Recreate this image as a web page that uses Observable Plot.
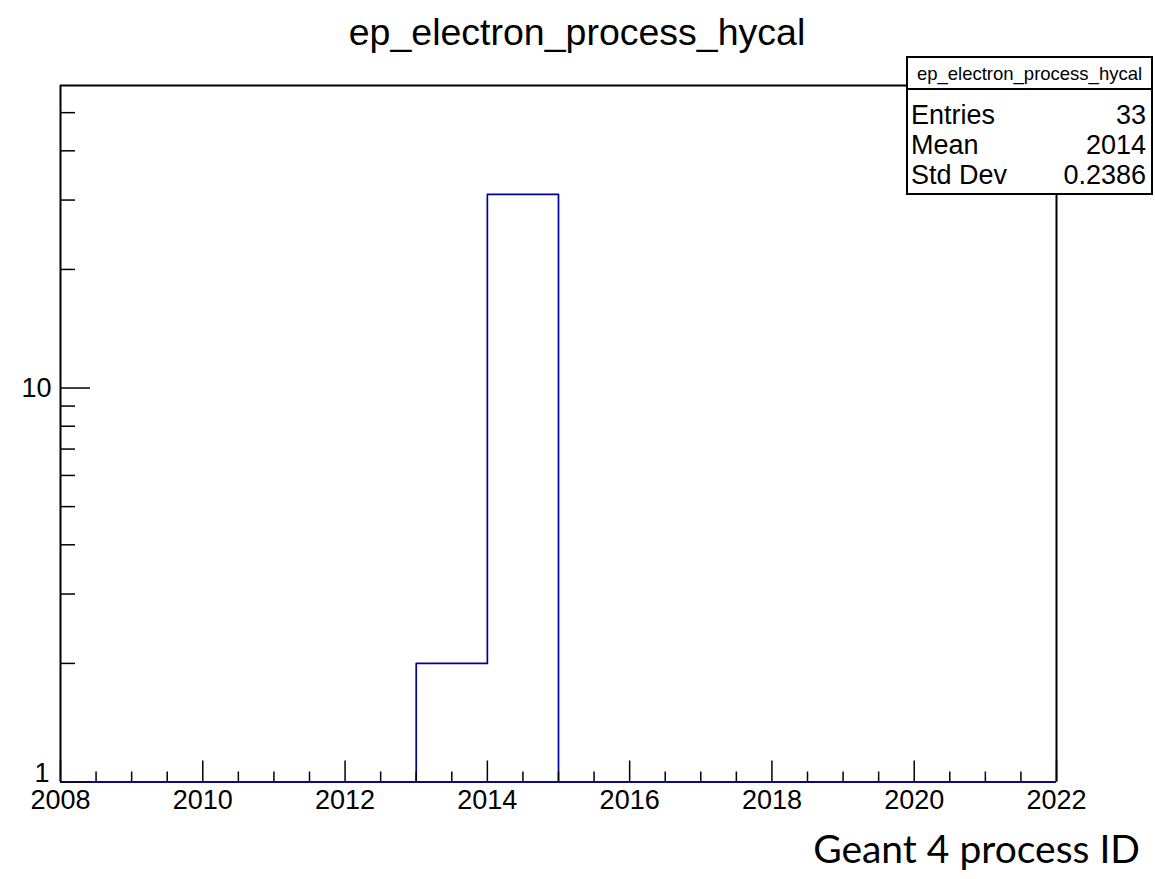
<!DOCTYPE html>
<html><head><meta charset="utf-8">
<script src="https://cdn.jsdelivr.net/npm/d3@7"></script>
<script src="https://cdn.jsdelivr.net/npm/@observablehq/plot@0.6"></script>
<style>
html,body{margin:0;padding:0;background:#fff;}
#wrap{position:relative;width:1155px;height:879px;overflow:hidden;}
#wrap svg{position:absolute;left:0;top:0;}
</style></head><body><div id="wrap"></div>
<script>
// ---- data ----
const title = "ep_electron_process_hycal";
const xAxisTitle = "Geant 4 process ID";
const binLow  = [2008,2009,2010,2011,2012,2013,2014,2015,2016,2017,2018,2019,2020,2021];
const binHigh = [2009,2010,2011,2012,2013,2014,2015,2016,2017,2018,2019,2020,2021,2022];
const counts  = [0,0,0,0,0,2,31,0,0,0,0,0,0,0];
const xTickLabels = [2008,2010,2012,2014,2016,2018,2020,2022];
const yTickLabels = [1,10];
const yMinorTicks = [2,3,4,5,6,7,8,9,20,30,40,50];
const statNames  = ["Entries","Mean","Std Dev"];
const statValues = ["33","2014","0.2386"];

// ---- layout ----
const W = 1155, H = 879;
const mL = 60, mR = 99, mT = 85, mB = 97.5;
const fw = W - mL - mR, fh = H - mT - mB;
const font = "'Liberation Sans', Arial, Helvetica, sans-serif";
const histColor = "#00009c";
const yFloor = 1; // bottom of the log axis

// step outline of the histogram (zero bins lie on the axis floor)
const bins = binLow.map((lo, i) => ({lo, hi: binHigh[i], n: counts[i]}));
const nz = bins.filter(d => d.n > 0);
const outline = [{x: nz[0].lo, y: yFloor}];
nz.forEach(d => { outline.push({x: d.lo, y: d.n}); outline.push({x: d.hi, y: d.n}); });
outline.push({x: nz[nz.length - 1].hi, y: yFloor});

const xMinor = d3.range(2008.5, 2022, 0.5).filter(v => v % 2 !== 0);

const chart = Plot.plot({
  width: W, height: H,
  marginLeft: mL, marginRight: mR, marginTop: mT, marginBottom: mB,
  style: {fontFamily: font, color: "black", background: "white"},
  x: {domain: [binLow[0], binHigh[binHigh.length - 1]], axis: null},
  y: {type: "log", domain: [yFloor, 58.6], axis: null},
  marks: [
    Plot.ruleY([yFloor], {x1: binLow[0], x2: binHigh[binHigh.length - 1], stroke: histColor, strokeWidth: 2}),
    Plot.line(outline, {x: "x", y: "y", stroke: histColor, strokeWidth: 1.7}),
    Plot.tickX(xTickLabels, {x: d => d, insetTop: fh - 21, stroke: "black", strokeWidth: 1.5}),
    Plot.tickX(xMinor, {x: d => d, insetTop: fh - 10, stroke: "black", strokeWidth: 1.5}),
    Plot.tickY(yTickLabels, {y: d => d, insetRight: fw - 30, stroke: "black", strokeWidth: 1.5}),
    Plot.tickY(yMinorTicks, {y: d => d, insetRight: fw - 15, stroke: "black", strokeWidth: 1.5}),
    Plot.ruleX([binLow[0]], {stroke: "black", strokeWidth: 2}),
    Plot.ruleX([binHigh[binHigh.length - 1]], {stroke: "black", strokeWidth: 2}),
    Plot.ruleY([58.6], {stroke: "black", strokeWidth: 2}),
    Plot.ruleY([yFloor], {stroke: "#14145a", strokeWidth: 1}),
    Plot.axisX({ticks: xTickLabels, tickSize: 0, tickPadding: 8, fontSize: 27,
      tickFormat: d => String(d), label: null}),
    Plot.axisY({ticks: [10], tickSize: 0, tickPadding: 9, fontSize: 27,
      tickFormat: d => String(d), label: null}),
    Plot.axisY({ticks: [1], tickSize: 0, tickPadding: 11, fontSize: 27, dy: -9,
      tickFormat: d => String(d), label: null})
  ]
});
document.getElementById("wrap").appendChild(chart);

// ---- overlay: title, stats box, axis title ----
const ov = d3.select("#wrap").append("svg").attr("width", W).attr("height", H)
  .style("font-family", font);
ov.append("text").attr("x", 577).attr("y", 45).attr("text-anchor", "middle")
  .attr("font-size", 37.5).text(title);

const bx = 907, by = 57, bw = 245, bh = 137;
ov.append("rect").attr("x", bx).attr("y", by).attr("width", bw).attr("height", bh)
  .attr("fill", "white").attr("stroke", "black").attr("stroke-width", 2);
ov.append("line").attr("x1", bx).attr("x2", bx + bw).attr("y1", 89).attr("y2", 89)
  .attr("stroke", "black").attr("stroke-width", 2);
ov.append("text").attr("x", bx + bw / 2).attr("y", 80).attr("text-anchor", "middle")
  .attr("font-size", 18.5).text(title);
const rowY = [124, 154, 184];
statNames.forEach((s, i) => {
  ov.append("text").attr("x", 911).attr("y", rowY[i]).attr("font-size", 27).text(s);
  ov.append("text").attr("x", 1146).attr("y", rowY[i]).attr("text-anchor", "end")
    .attr("font-size", 27).text(statValues[i]);
});
ov.append("text").attr("x", 1140).attr("y", 863).attr("text-anchor", "end")
  .attr("font-family", "Lato, 'Open Sans', sans-serif").attr("font-size", 39).text(xAxisTitle);
</script></body></html>
